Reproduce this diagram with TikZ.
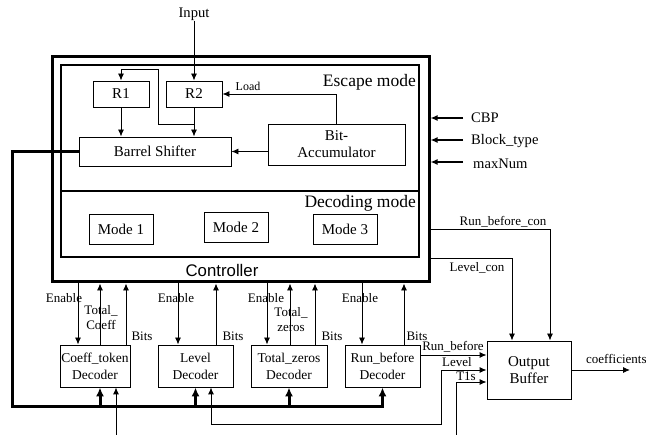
\documentclass[tikz,border=0pt]{standalone}
\usepackage{fontspec}
\setmainfont{Liberation Serif}
\newfontfamily\arialf{Liberation Sans}
\usetikzlibrary{arrows.meta,calc}
\newcommand\myfs[2]{\fontsize{#1}{#2}\selectfont}
\begin{document}
\begin{tikzpicture}[x=1pt,y=-1pt,
  >={Latex[length=7pt,width=6pt]},
  blk/.style={draw, line width=0.9pt, inner sep=0pt, align=center, font=\myfs{15}{17}},
  dblk/.style={blk, font=\myfs{13.5}{17}},
  lbl/.style={inner sep=0pt, font=\myfs{13}{15}, align=center},
  sig/.style={line width=0.9pt},
  sidein/.style={line width=1.6pt},
  bus/.style={line width=3pt, >={Latex[length=9pt,width=8pt]}},
]
\useasboundingbox (0,0) rectangle (646,435);

% controller
\node[draw, line width=3pt, minimum width=377pt, minimum height=225pt, inner sep=0pt] (ctrl) at (240.5,169.5) {};
\node[draw, line width=2pt, minimum width=358pt, minimum height=126pt, inner sep=0pt] (esc) at (240,128) {};
\node[draw, line width=2pt, minimum width=358pt, minimum height=66pt, inner sep=0pt] (dec) at (240,224) {};
\node[anchor=east, inner sep=0pt, font=\myfs{17.5}{20}] (esct) at (416,82) {Escape mode};
\node[anchor=east, inner sep=0pt, font=\myfs{17.5}{20}] (dect) at (416,203) {Decoding mode};
\node[inner sep=0pt, font=\arialf\myfs{16.8}{19}] (ctlt) at (222,270) {Controller};

% escape mode blocks
\node[blk, minimum width=56pt, minimum height=26pt] (r1) at (121,94) {R1};
\node[blk, minimum width=56pt, minimum height=26pt] (r2) at (194,94) {R2};
\node[blk, minimum width=152pt, minimum height=29pt] (bs) at (155,151.5) {Barrel Shifter};
\node[blk, minimum width=137pt, minimum height=41pt] (ba) at (336.5,144.5) {Bit-\\Accumulator};

% decoding mode blocks
\node[blk, minimum width=64pt, minimum height=30pt] (m1) at (121,229) {Mode 1};
\node[blk, minimum width=64pt, minimum height=30pt] (m2) at (236,227) {Mode 2};
\node[blk, minimum width=64pt, minimum height=30pt] (m3) at (345,229) {Mode 3};

% decoders
\node[dblk, minimum width=70pt, minimum height=42pt] (cd) at (95,366) {Coeff\_token\\Decoder};
\node[dblk, minimum width=75pt, minimum height=42pt] (ld) at (195.5,366) {Level\\Decoder};
\node[dblk, minimum width=76pt, minimum height=42pt] (tz) at (289,366) {Total\_zeros\\Decoder};
\node[dblk, minimum width=75pt, minimum height=42pt] (rb) at (382.5,366) {Run\_before\\Decoder};
\node[blk, minimum width=84pt, minimum height=58pt] (ob) at (529,370) {Output\\Buffer};

% input
\node[lbl, font=\myfs{14.6}{16}] (in) at (194,14) {Input};
\draw[sig,->] (in.south) -- (r2.north);
\draw[sig,->] (r1.south) -- (r1.south |- bs.north);
\draw[sig,->] (r2.south) -- (r2.south |- bs.north);
\draw[sig,->] ([yshift=-17pt]r2.south) -- ++(-36,0) -- ++(0,-55) -| (r1.north);
\draw[sig,->] (ba.north) |- (r2.east);
\node[lbl, font=\myfs{12}{14}] (loadt) at (248,86) {Load};
\draw[sig,->] (ba.west |- bs.east) -- (bs.east);

% side inputs
\coordinate (cbp) at (463,118);
\coordinate (btp) at (463,140);
\coordinate (mxn) at (463,162);
\draw[sidein,->] (cbp) -- (cbp -| ctrl.east);
\draw[sidein,->] (btp) -- (btp -| ctrl.east);
\draw[sidein,->] (mxn) -- (mxn -| ctrl.east);
\node[lbl, anchor=west, font=\myfs{14.6}{16}] (cbpt) at (471,118) {CBP};
\node[lbl, anchor=west, font=\myfs{14.6}{16}] (btpt) at (471,141) {Block\_type};
\node[lbl, anchor=west, font=\myfs{14.6}{16}] (mxnt) at (473,164) {maxNum};

% controller <-> decoders
\draw[sig,->] ([xshift=-17pt]cd.north |- ctrl.south) -- ([xshift=-17pt]cd.north);
\draw[sig,<-] ([xshift=5pt]cd.north |- ctrl.south) -- ([xshift=5pt]cd.north);
\draw[sig,<-] ([xshift=31pt]cd.north |- ctrl.south) -- ([xshift=31pt]cd.north);
\draw[sig,->] ([xshift=-17.5pt]ld.north |- ctrl.south) -- ([xshift=-17.5pt]ld.north);
\draw[sig,<-] ([xshift=20.5pt]ld.north |- ctrl.south) -- ([xshift=20.5pt]ld.north);
\draw[sig,->] ([xshift=-22pt]tz.north |- ctrl.south) -- ([xshift=-22pt]tz.north);
\draw[sig,<-] ([xshift=1pt]tz.north |- ctrl.south) -- ([xshift=1pt]tz.north);
\draw[sig,<-] ([xshift=26pt]tz.north |- ctrl.south) -- ([xshift=26pt]tz.north);
\draw[sig,->] ([xshift=-20.5pt]rb.north |- ctrl.south) -- ([xshift=-20.5pt]rb.north);
\draw[sig,<-] ([xshift=21.5pt]rb.north |- ctrl.south) -- ([xshift=21.5pt]rb.north);

\node[lbl] (en1) at (64,298) {Enable};
\node[lbl] (en2) at (176,298) {Enable};
\node[lbl] (en3) at (266,298) {Enable};
\node[lbl] (en4) at (360,298) {Enable};
\node[lbl] (tc) at (101,318) {Total\_\\Coeff};
\node[lbl] (tzl) at (291,320) {Total\_\\zeros};
\node[lbl] (b1) at (142,336) {Bits};
\node[lbl] (b2) at (233,336) {Bits};
\node[lbl] (b3) at (332,336) {Bits};
\node[lbl] (b4) at (417,336) {Bits};

% bus from barrel shifter
\coordinate (busy) at (0,407);
\draw[bus,->] (bs.west) -| (12,407) -| (rb.south);
\draw[bus,->] ([xshift=5pt]cd.south |- busy) -- ([xshift=5pt]cd.south);
\draw[bus,->] (ld.south |- busy) -- (ld.south);
\draw[bus,->] (tz.south |- busy) -- (tz.south);

% thin bottom signals
\coordinate (cdin) at (116,435);
\draw[sig,->] (cdin) -- (cdin |- cd.south);
\draw[sig,<->] ([xshift=15.5pt]ld.south) -- ++(0,37) -| (441,370) -- (ob.west);
\coordinate (t1in) at (456,435);
\draw[sig,->] (t1in) |- ([yshift=-12pt]ob.west);
\draw[sig,->] ([yshift=11pt]rb.east) -- ([yshift=11pt]rb.east -| ob.west);
\node[lbl] (rbt) at (453,347) {Run\_before};
\node[lbl] (lvt) at (457,362) {Level};
\node[lbl] (t1t) at (466,376) {T1s};

% controller -> output buffer
\draw[sig,->] ([yshift=-59.5pt]ctrl.east) -| ([xshift=21pt]ob.north);
\draw[sig,->] ([yshift=-88.5pt]ctrl.east) -| ([xshift=-17pt]ob.north);
\node[lbl] (rbc) at (503,222) {Run\_before\_con};
\node[lbl] (lvc) at (477,268) {Level\_con};

% output
\coordinate (coef) at (630,370);
\draw[sig,->] (ob.east) -- (coef);
\node[lbl, anchor=west] (coeft) at (586,359) {coefficients};
\end{tikzpicture}
\end{document}
